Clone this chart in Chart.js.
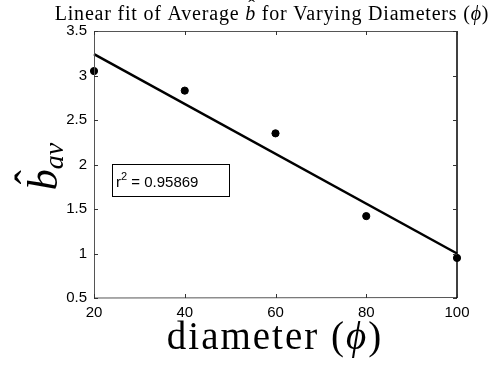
<!DOCTYPE html>
<html>
<head>
<meta charset="utf-8">
<script src="https://cdn.jsdelivr.net/npm/chart.js@4/dist/chart.umd.min.js"></script>
<style>
body { margin: 0; background: #fff; }
</style>
</head>
<body>
<canvas id="fit-chart" width="500" height="368"></canvas>
<script>
const diameters = [20, 40, 60, 80, 100];
const bHatAv = [3.05, 2.83, 2.35, 1.42, 0.95];
const fitX = [20, 100];
const fitY = [3.24, 1.0];
const rSquared = '0.95869';

const serif = '"Liberation Serif", "DejaVu Serif", serif';
const sans = '"Liberation Sans", Arial, sans-serif';

// pieces: {t, font, size, dy, hat}
function runWidth(ctx, pieces) {
	let w = 0;
	pieces.forEach(p => { ctx.font = p.font; w += ctx.measureText(p.t).width; });
	return w;
}
function drawRun(ctx, pieces, x, y) {
	pieces.forEach(p => {
		ctx.font = p.font;
		const w = ctx.measureText(p.t).width;
		ctx.fillText(p.t, x, y + (p.dy || 0));
		if (p.hat) {
			ctx.font = p.size + 'px ' + serif;
			const hw = ctx.measureText('\u02C6').width;
			ctx.fillText('\u02C6', x + w * 0.62 - hw / 2, y - p.size * 0.3);
		}
		x += w;
	});
}

const textPlugin = {
	id: 'texts',
	afterDraw(chart) {
		const ctx = chart.ctx;
		const a = chart.chartArea;
		const xs = chart.scales.x, ys = chart.scales.y;
		ctx.save();

		// frame
		ctx.lineWidth = 1;
		ctx.strokeStyle = '#555';
		ctx.beginPath();
		ctx.moveTo(a.left + 0.5, a.top + 0.5);
		ctx.lineTo(a.right, a.top + 0.5);
		ctx.moveTo(a.left + 0.5, a.top);
		ctx.lineTo(a.left + 0.5, a.bottom);
		ctx.lineTo(a.right, a.bottom - 0.5);
		ctx.stroke();
		ctx.strokeStyle = '#000';
		ctx.lineWidth = 1.5;
		ctx.beginPath();
		ctx.moveTo(a.right, a.top);
		ctx.lineTo(a.right, a.bottom);
		ctx.stroke();

		// inward ticks
		ctx.lineWidth = 1;
		ctx.strokeStyle = '#333';
		ctx.beginPath();
		xs.ticks.forEach(t => {
			const px = Math.round(xs.getPixelForValue(t.value)) + 0.5;
			ctx.moveTo(px, a.bottom); ctx.lineTo(px, a.bottom - 4);
			ctx.moveTo(px, a.top); ctx.lineTo(px, a.top + 4);
		});
		ys.ticks.forEach(t => {
			const py = Math.round(ys.getPixelForValue(t.value)) + 0.5;
			ctx.moveTo(a.left, py); ctx.lineTo(a.left + 4, py);
			ctx.moveTo(a.right, py); ctx.lineTo(a.right - 4, py);
		});
		ctx.stroke();

		ctx.fillStyle = '#000';
		ctx.textBaseline = 'alphabetic';
		ctx.textAlign = 'left';

		// title
		ctx.letterSpacing = '0.8px';
		const tf = '20px ' + serif, ti = 'italic 20px ' + serif;
		const title = [
			{t: 'Linear fit of Average ', font: tf},
			{t: 'b', font: ti, size: 20, hat: true},
			{t: ' for Varying Diameters (', font: tf},
			{t: '\u03D5', font: ti},
			{t: ')', font: tf}
		];
		const tw = runWidth(ctx, title);
		drawRun(ctx, title, 272 - tw / 2, 20);

		// x axis title
		ctx.letterSpacing = '2px';
		const xf = '39px ' + serif, xi = 'italic 39px ' + serif;
		const xlab = [
			{t: 'diameter (', font: xf},
			{t: '\u03D5', font: xi},
			{t: ')', font: xf}
		];
		const xw = runWidth(ctx, xlab);
		drawRun(ctx, xlab, 275 - xw / 2, 349);
		ctx.letterSpacing = '0px';

		// y axis title
		ctx.save();
		ctx.translate(57, (a.top + a.bottom) / 2 + 2);
		ctx.rotate(-Math.PI / 2);
		const ylab = [
			{t: 'b', font: 'italic 42px ' + serif, size: 42, hat: true},
			{t: 'av', font: 'italic 28px ' + serif, dy: 6}
		];
		const yw = runWidth(ctx, ylab);
		drawRun(ctx, ylab, -yw / 2, 0);
		ctx.restore();

		// r^2 box
		const bx = a.left + 18, by = a.top + 133;
		ctx.lineWidth = 1;
		ctx.strokeStyle = '#000';
		ctx.strokeRect(bx + 0.5, by + 0.5, 117, 32);
		drawRun(ctx, [
			{t: 'r', font: '15px ' + sans},
			{t: '2', font: '11px ' + sans, dy: -7},
			{t: ' = ' + rSquared, font: '15px ' + sans}
		], bx + 4, by + 23);

		ctx.restore();
	}
};

const ctx = document.getElementById('fit-chart').getContext('2d');
new Chart(ctx, {
	type: 'scatter',
	data: {
		datasets: [
			{
				label: 'fit',
				data: fitX.map((x, i) => ({x: x, y: fitY[i]})),
				showLine: true,
				borderColor: '#000',
				borderWidth: 2.5,
				pointRadius: 0,
				clip: false
			},
			{
				label: 'average b',
				data: diameters.map((x, i) => ({x: x, y: bHatAv[i]})),
				backgroundColor: '#000',
				borderColor: '#000',
				pointRadius: 3.6,
				clip: false
			}
		]
	},
	options: {
		responsive: false,
		animation: false,
		devicePixelRatio: 1,
		layout: { padding: { top: 31, right: 43, left: 0, bottom: 0 } },
		plugins: {
			legend: { display: false },
			title: { display: false },
			tooltip: { enabled: false }
		},
		scales: {
			x: {
				type: 'linear',
				min: 20, max: 100,
				grid: { display: false, drawTicks: false },
				border: { display: false },
				ticks: { stepSize: 20, padding: 6, color: '#000', font: { family: sans, size: 15 } },
				afterFit(scale) { scale.height = 70; }
			},
			y: {
				type: 'linear',
				min: 0.5, max: 3.5,
				grid: { display: false, drawTicks: false },
				border: { display: false },
				ticks: {
					stepSize: 0.5, padding: 7, color: '#000', font: { family: sans, size: 15 },
					callback: v => String(v)
				},
				afterFit(scale) { scale.width = 94; }
			}
		}
	},
	plugins: [textPlugin]
});
</script>
</body>
</html>
